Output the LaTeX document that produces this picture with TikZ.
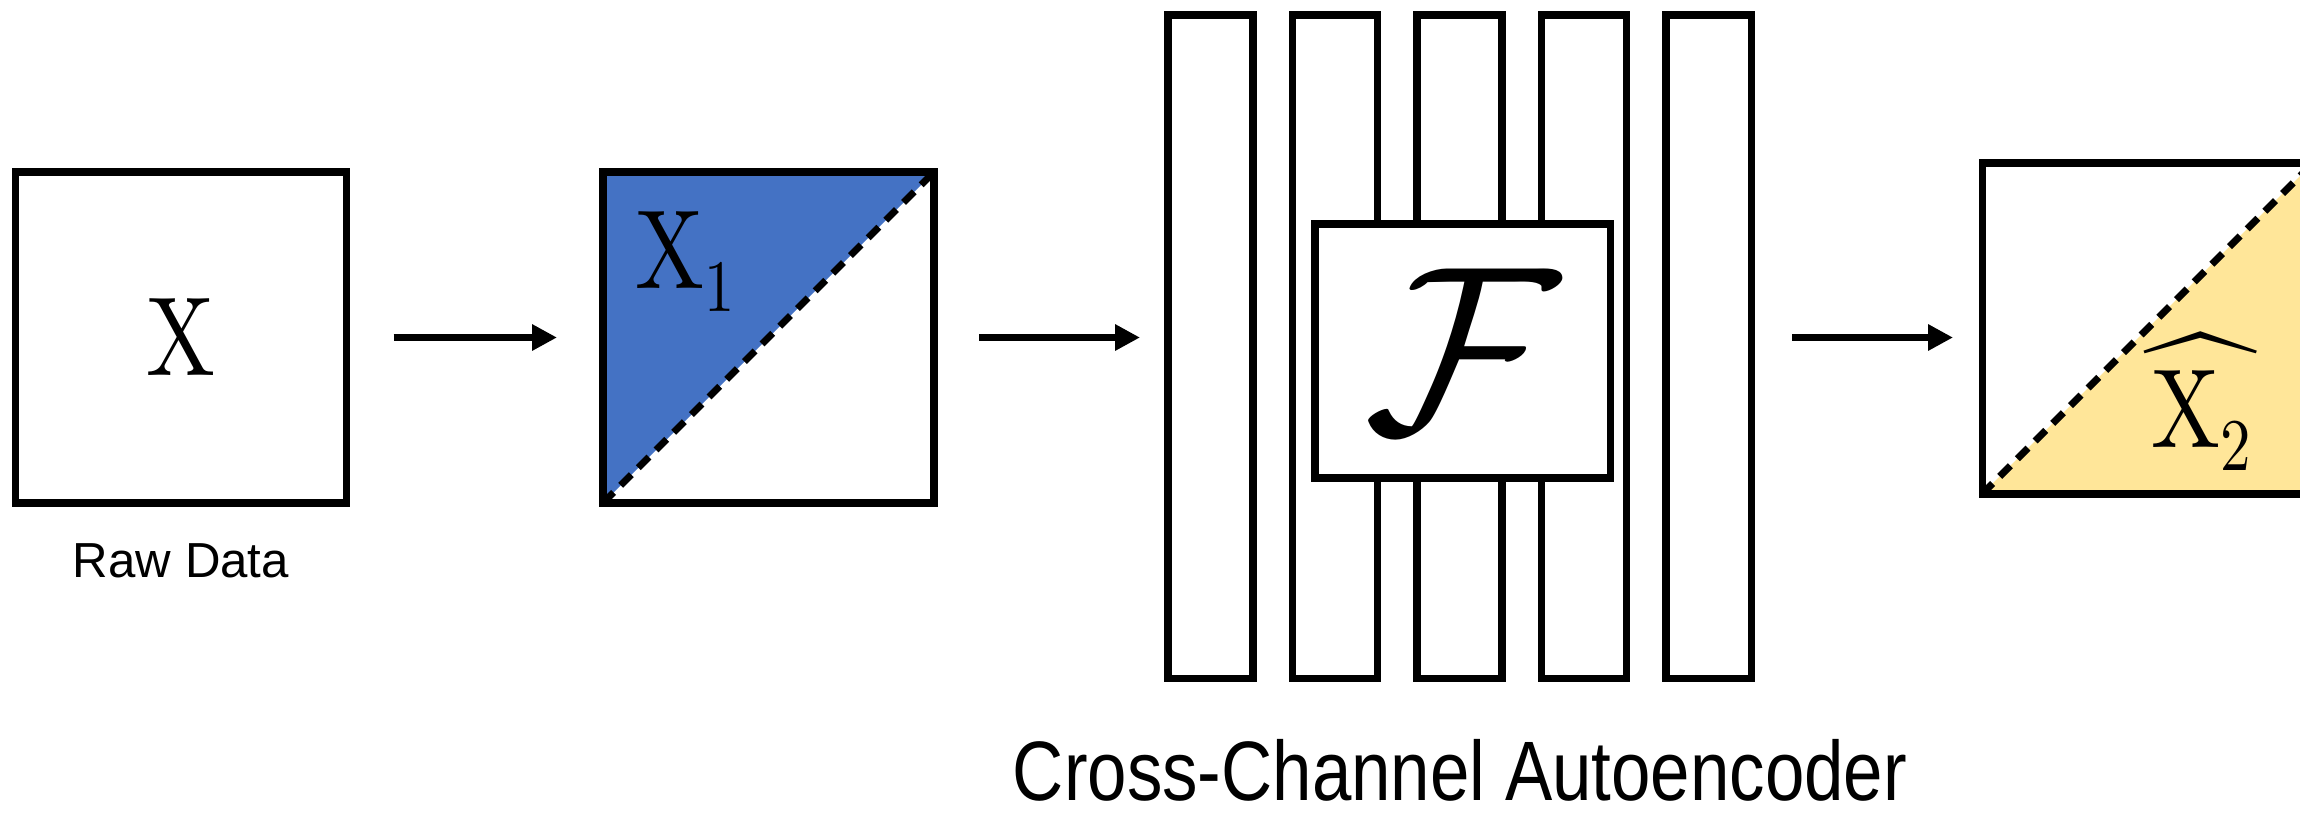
\RequirePackage{fix-cm}
\documentclass[tikz,border=0pt]{standalone}
\usepackage{graphicx}
\usepackage{fontspec}
\setmainfont{lmroman10-regular}[Extension=.otf, FakeStretch=0.82]
\newfontfamily\capfont[FakeStretch=0.84]{Liberation Sans}
\newfontfamily\rawfont{Liberation Sans}
\usetikzlibrary{arrows.meta,backgrounds}
\definecolor{chanblue}{RGB}{68,114,196}
\definecolor{changold}{RGB}{255,230,153}
\tikzset{
  databox/.style={draw, line width=2pt, minimum width=3.31cm, minimum height=3.31cm, inner sep=0pt, outer sep=0pt},
  layer/.style={draw, line width=2pt, minimum width=0.85cm, minimum height=6.63cm, inner sep=0pt, outer sep=0pt},
  mapbox/.style={draw, fill=white, line width=2pt, minimum width=2.95cm, minimum height=2.54cm, inner sep=0pt, outer sep=0pt},
  arr/.style={-{Triangle[length=0.25cm, width=0.25cm]}, line width=2pt},
  cut/.style={line width=2pt, dash pattern=on 0.15cm off 0.1cm},
  lbl/.style={font=\fontsize{32}{36}\selectfont, inner sep=0pt}
}
\newcommand{\sublbl}[1]{\raisebox{-0.23cm}{\fontsize{21}{24}\selectfont #1}}
\begin{document}
\begin{tikzpicture}
    \useasboundingbox (0,0) rectangle (23,8.27);
    \clip (0,0) rectangle (23,8.27);

    % input, split input, reconstruction
    \node[databox, lbl] (raw) at (1.81,4.895) {X};
    \node[databox] (x1) at (7.685,4.895) {};
    \node[databox] (x2) at (21.475,4.985) {};
    \node[anchor=base, font=\rawfont\fontsize{14}{16}\selectfont] (rawlbl) at ([yshift=-0.74cm]raw.south) {Raw Data};

    \begin{scope}[on background layer]
        \fill[chanblue] (x1.north west) -- (x1.north east) -- (x1.south west) -- cycle;
        \draw[cut] (x1.south west) -- (x1.north east);
        \fill[changold] (x2.south west) -- (x2.south east) -- (x2.north east) -- cycle;
        \draw[cut] (x2.south west) -- (x2.north east);
    \end{scope}
    \node[anchor=base west, lbl] (x1lbl) at ([shift={(0.32,-1.16)}]x1.north west) {X\sublbl{1}};
    \node[anchor=base west, lbl] (x2lbl) at ([shift={(1.61,-1.185)}]x2.west)
        {\scalebox{3.2}{$\widehat{\hbox to 10.2pt{\hss\fontsize{10}{12}\selectfont X\raisebox{-0.072cm}{\fontsize{6.6}{8}\selectfont 2}\hss}}$}};

    % autoencoder layers
    \foreach \i in {1,...,5}
        \node[layer] (l\i) at ({12.105+1.245*(\i-1)},4.805) {};
    \node[mapbox, font=\fontsize{68}{70}\selectfont] (map) at (14.625,4.76) {$\mathcal{F}$};
    \node[anchor=base, font=\capfont\fontsize{24}{28}\selectfont] (caption) at (14.6,0.27) {Cross-Channel Autoencoder};

    \draw[arr, shorten <=0.47cm, shorten >=0.46cm] (raw.east) -- (x1.west);
    \draw[arr, shorten <=0.45cm, shorten >=0.28cm] (x1.east) -- (x1.east -| l1.west);
    \draw[arr, shorten <=0.41cm, shorten >=0.29cm] (l5.east |- x1.east) -- (x1.east -| x2.west);
\end{tikzpicture}
\end{document}
